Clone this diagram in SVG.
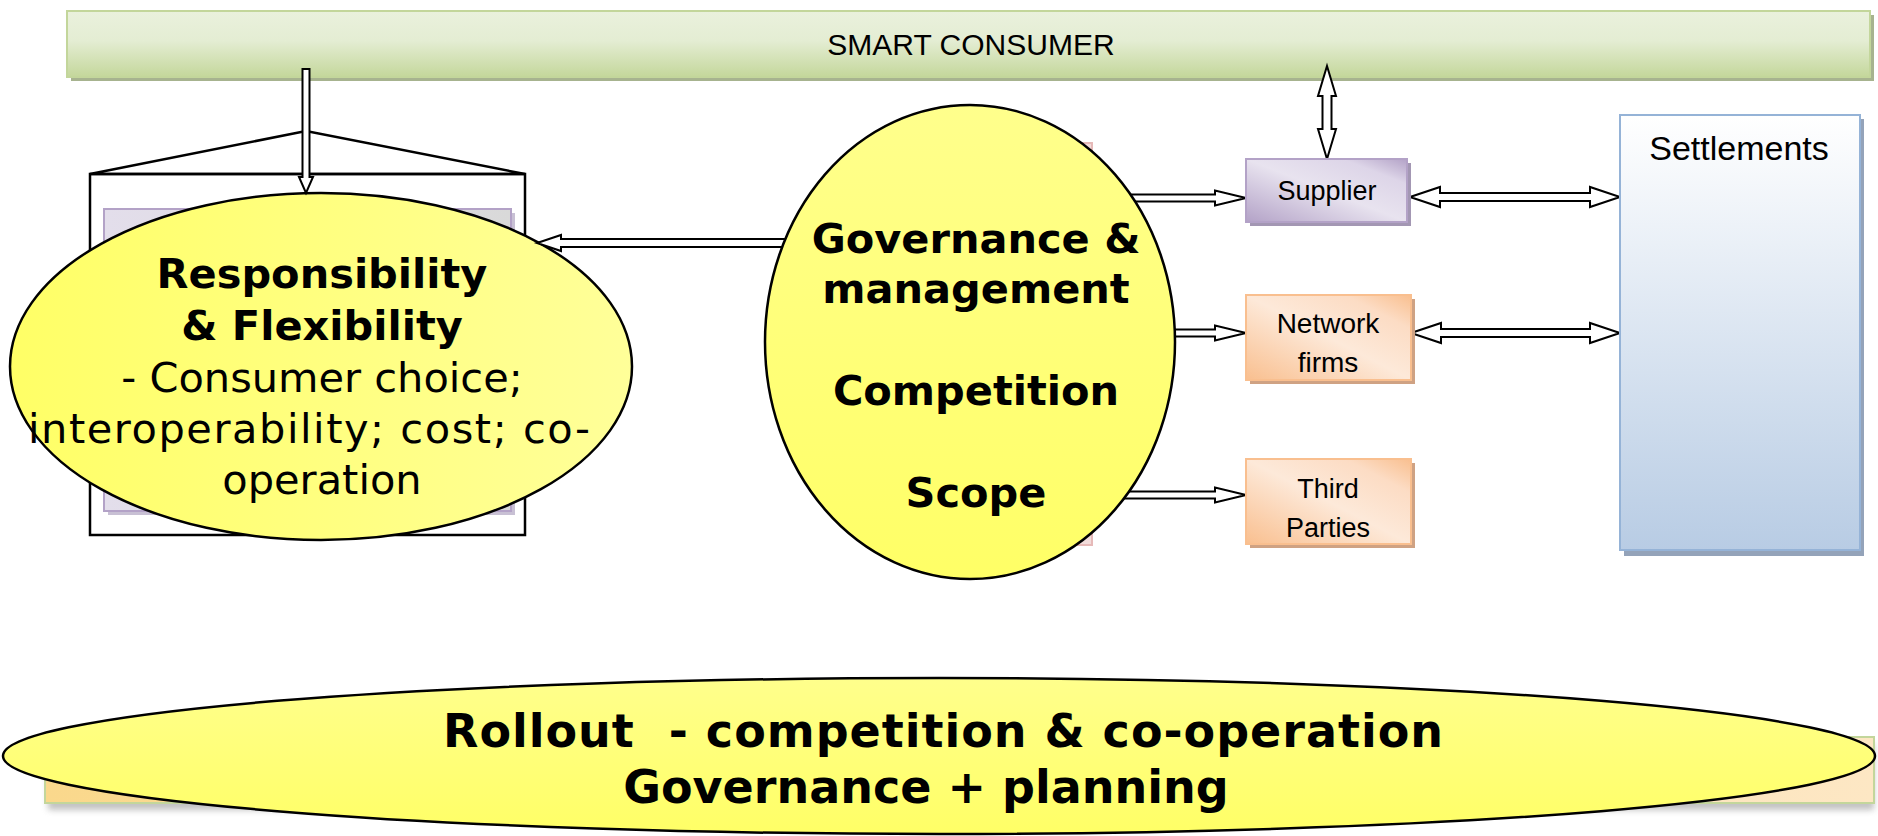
<svg xmlns="http://www.w3.org/2000/svg" width="1878" height="836" viewBox="0 0 1878 836">
<defs>
<linearGradient id="gBar" x1="0" y1="0" x2="0" y2="1">
<stop offset="0" stop-color="#eaf1dd"/><stop offset="0.45" stop-color="#e4edd3"/><stop offset="1" stop-color="#c4d79b"/>
</linearGradient>
<linearGradient id="gPurple" x1="0" y1="1" x2="1" y2="0">
<stop offset="0" stop-color="#b3a2c7"/><stop offset="0.5" stop-color="#e8e3ef"/><stop offset="0.8" stop-color="#ddd5e8"/><stop offset="1" stop-color="#b3a2c7"/>
</linearGradient>
<linearGradient id="gOrange" x1="0" y1="1" x2="1" y2="0">
<stop offset="0" stop-color="#f9bf8f"/><stop offset="0.5" stop-color="#fde9d9"/><stop offset="0.8" stop-color="#fcdcc4"/><stop offset="1" stop-color="#f9bf8f"/>
</linearGradient>
<linearGradient id="gBlue" x1="0" y1="0" x2="0" y2="1">
<stop offset="0" stop-color="#ffffff"/><stop offset="1" stop-color="#b8cce4"/>
</linearGradient>
<linearGradient id="gInner" x1="0" y1="0" x2="1" y2="0">
<stop offset="0" stop-color="#e3deeb"/><stop offset="1" stop-color="#d9d9d9"/>
</linearGradient>
<linearGradient id="gYellow" x1="0" y1="0" x2="1" y2="0">
<stop offset="0" stop-color="#ffff66"/><stop offset="1" stop-color="#ffff99"/>
</linearGradient>
<linearGradient id="gYellow2" x1="0" y1="0" x2="0" y2="1">
<stop offset="0" stop-color="#ffff8c"/><stop offset="1" stop-color="#ffff66"/>
</linearGradient>
<linearGradient id="gBottom" x1="0" y1="0" x2="1" y2="0">
<stop offset="0" stop-color="#fad88c"/><stop offset="1" stop-color="#fde7c4"/>
</linearGradient>
<filter id="blur" x="-5%" y="-50%" width="110%" height="200%"><feGaussianBlur stdDeviation="3"/></filter>
</defs>
<style>
.cal{font-family:"Liberation Sans",Arial,sans-serif;fill:#000;text-anchor:middle}
.ver{font-family:"DejaVu Sans",Verdana,sans-serif;fill:#000;text-anchor:middle;font-size:41.5px}
.big{font-size:46px}
.b{font-weight:bold}
.arr{fill:#fff;stroke:#000;stroke-width:2;stroke-linejoin:miter}
.ell{stroke:#000;stroke-width:2.5}
</style>

<g id="smart-consumer">
<rect x="71" y="15" width="1803" height="66" fill="#a7b38f"/>
<rect x="67" y="11" width="1803" height="66" fill="url(#gBar)" stroke="#c3d69b" stroke-width="2"/>
<text class="cal" x="971" y="55" font-size="30">SMART CONSUMER</text>
</g>

<g id="house">
<polygon points="90,174 306,131 525,174" fill="none" stroke="#000" stroke-width="2.5"/>
<rect x="90" y="174" width="435" height="361" fill="none" stroke="#000" stroke-width="2.5"/>
<rect x="108" y="213" width="407" height="302" fill="#c8c0d4"/>
<rect x="104" y="209" width="407" height="302" fill="url(#gInner)" stroke="#b3a2c7" stroke-width="2"/>
</g>

<g id="responsibility">
<ellipse class="ell" cx="321" cy="366.5" rx="311" ry="173.5" fill="url(#gYellow)"/>
<text class="ver b" x="322" y="288">Responsibility</text>
<text class="ver b" x="322" y="340">&amp; Flexibility</text>
<text class="ver" x="322" y="392">- Consumer choice;</text>
<text class="ver" x="309" y="443" textLength="562" lengthAdjust="spacing">interoperability; cost; co-</text>
<text class="ver" x="322" y="494">operation</text>
</g>

<g id="hidden-box">
<rect x="930" y="143" width="162" height="402" fill="#f2dcdb" stroke="#e6b9b8" stroke-width="2"/>
</g>

<g id="connectors">
<!-- smart consumer down to responsibility -->
<polygon class="arr" points="302.5,69 309.5,69 309.5,177 313,177 306,193 299,177 302.5,177"/>
<!-- smart consumer <-> supplier -->
<polygon class="arr" points="1327,66 1336,96 1331.5,96 1331.5,129 1336,129 1327,159 1318,129 1322.5,129 1322.5,96 1318,96"/>
<!-- governance -> responsibility -->
<polygon class="arr" points="900,239 561,239 561,235 537,243 561,251 561,247 900,247"/>
<!-- governance -> supplier -->
<polygon class="arr" points="1080,194.5 1215,194.5 1215,190.5 1246,198 1215,205.5 1215,201.5 1080,201.5"/>
<!-- governance -> network -->
<polygon class="arr" points="1080,329.5 1215,329.5 1215,325.5 1246,333 1215,340.5 1215,336.5 1080,336.5"/>
<!-- governance -> third parties -->
<polygon class="arr" points="1080,491.5 1215,491.5 1215,487.5 1246,495 1215,502.5 1215,498.5 1080,498.5"/>
<!-- supplier <-> settlements -->
<polygon class="arr" points="1410,197 1440,187 1440,193 1590,193 1590,187 1620,197 1590,207 1590,201 1440,201 1440,207"/>
<!-- network <-> settlements -->
<polygon class="arr" points="1411,333 1441,323 1441,329 1590,329 1590,323 1620,333 1590,343 1590,337 1441,337 1441,343"/>
</g>

<g id="governance">
<ellipse class="ell" cx="970" cy="342" rx="205" ry="237" fill="url(#gYellow2)"/>
<text class="ver b" x="976" y="253">Governance &amp;</text>
<text class="ver b" x="976" y="303">management</text>
<text class="ver b" x="976" y="405">Competition</text>
<text class="ver b" x="976" y="507">Scope</text>
</g>

<g id="supplier">
<rect x="1250" y="163" width="161" height="63" fill="#a397b3"/>
<rect x="1246" y="159" width="161" height="63" fill="url(#gPurple)" stroke="#b3a2c7" stroke-width="2"/>
<text class="cal" x="1327" y="200" font-size="27">Supplier</text>
</g>

<g id="network-firms">
<rect x="1250" y="299" width="165" height="85" fill="#cfa283"/>
<rect x="1246" y="295" width="165" height="85" fill="url(#gOrange)" stroke="#f9bf8f" stroke-width="2"/>
<text class="cal" x="1328" y="333" font-size="28">Network</text>
<text class="cal" x="1328" y="372" font-size="28">firms</text>
</g>

<g id="third-parties">
<rect x="1250" y="463" width="165" height="85" fill="#cfa283"/>
<rect x="1246" y="459" width="165" height="85" fill="url(#gOrange)" stroke="#f9bf8f" stroke-width="2"/>
<text class="cal" x="1328" y="498" font-size="27">Third</text>
<text class="cal" x="1328" y="537" font-size="27">Parties</text>
</g>

<g id="settlements">
<rect x="1624" y="119" width="240" height="437" fill="#94a3b9"/>
<rect x="1620" y="115" width="240" height="435" fill="url(#gBlue)" stroke="#95b3d7" stroke-width="2"/>
<text class="cal" x="1739" y="160" font-size="34">Settlements</text>
</g>

<g id="rollout">
<rect x="48" y="744" width="1826" height="66" fill="#999" opacity="0.6" filter="url(#blur)"/>
<rect x="45" y="737" width="1829" height="66" fill="url(#gBottom)" stroke="#c3d69b" stroke-width="2"/>
<ellipse class="ell" cx="939" cy="756" rx="936" ry="78" fill="url(#gYellow2)"/>
<text class="ver b big" x="943" y="747" style="white-space:pre" textLength="1000" lengthAdjust="spacing">Rollout  - competition &amp; co-operation</text>
<text class="ver b big" x="926" y="803">Governance + planning</text>
</g>
</svg>
